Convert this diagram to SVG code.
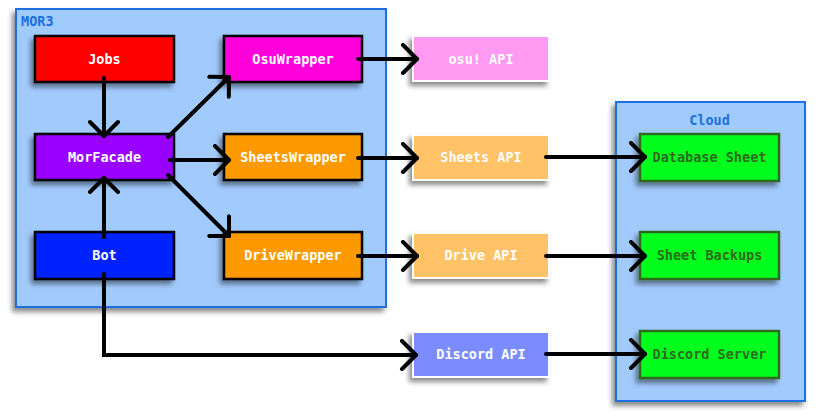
<svg xmlns="http://www.w3.org/2000/svg" width="824" height="418" viewBox="0 0 824 418">
<defs>
<filter id="sh" x="-20%" y="-20%" width="140%" height="150%">
<feDropShadow dx="-3" dy="4" stdDeviation="2.5" flood-color="#000" flood-opacity="0.45"/>
</filter>
<marker id="ah" markerUnits="userSpaceOnUse" viewBox="-22 -16 26 32" refX="0" refY="0" markerWidth="26" markerHeight="32" orient="auto">
<path d="M-14,-14 L0,0 L-14,14" fill="none" stroke="#000" stroke-width="4" stroke-linecap="round" stroke-linejoin="round"/>
</marker>
<style>
.grp{fill:#a2cbfd;stroke:#1a6fe0;stroke-width:2;filter:url(#sh)}
.gl{font-family:"DejaVu Sans Mono","Liberation Mono",monospace;font-weight:bold;font-size:13.5px;fill:#1a6fe0}
.n{stroke:#000;stroke-width:2.5;filter:url(#sh)}
.api{stroke:#fff;stroke-width:2;filter:url(#sh)}
.cl{fill:#00ff1a;stroke:#2d6b1c;stroke-width:2.5;filter:url(#sh)}
.t{font-family:"DejaVu Sans Mono","Liberation Mono",monospace;font-weight:bold;font-size:13.5px;fill:#fff;text-anchor:middle}
.ct{font-family:"DejaVu Sans Mono","Liberation Mono",monospace;font-weight:bold;font-size:13.5px;fill:#2d6b1c;text-anchor:middle}
.c{fill:none;stroke:#000;stroke-width:4;stroke-linecap:round;stroke-linejoin:miter;marker-end:url(#ah)}
</style>
</defs>
<g id="MOR3">
<rect class="grp" x="16" y="9" width="370" height="298"/>
<text class="gl" x="21" y="26">MOR3</text>
</g>
<g id="Cloud">
<rect class="grp" x="616" y="102" width="189" height="299"/>
<text class="gl" x="709.5" y="125" text-anchor="middle">Cloud</text>
</g>
<g id="Jobs"><rect class="n" x="35" y="36" width="139" height="46" fill="#ff0000"/><text class="t" x="104.5" y="63.5">Jobs</text></g>
<g id="OsuWrapper"><rect class="n" x="224" y="36" width="138" height="46" fill="#ff00dd"/><text class="t" x="293" y="63.5">OsuWrapper</text></g>
<g id="MorFacade"><rect class="n" x="35" y="134" width="139" height="46" fill="#9900ff"/><text class="t" x="104.5" y="161.5">MorFacade</text></g>
<g id="SheetsWrapper"><rect class="n" x="224" y="134" width="138" height="46" fill="#ff9900"/><text class="t" x="293" y="161.5">SheetsWrapper</text></g>
<g id="Bot"><rect class="n" x="35" y="232" width="139" height="47" fill="#0022ff"/><text class="t" x="104.5" y="260">Bot</text></g>
<g id="DriveWrapper"><rect class="n" x="224" y="232" width="138" height="47" fill="#ff9900"/><text class="t" x="293" y="260">DriveWrapper</text></g>
<g id="osuAPI"><rect class="api" x="413" y="36" width="136" height="45" fill="#ff99f2"/><text class="t" x="481" y="63.5">osu! API</text></g>
<g id="SheetsAPI"><rect class="api" x="413" y="135" width="136" height="45" fill="#ffc266"/><text class="t" x="481" y="161.5">Sheets API</text></g>
<g id="DriveAPI"><rect class="api" x="413" y="233" width="136" height="45" fill="#ffc266"/><text class="t" x="481" y="260">Drive API</text></g>
<g id="DiscordAPI"><rect class="api" x="413" y="332" width="136" height="45" fill="#7a8cff"/><text class="t" x="481" y="359">Discord API</text></g>
<g id="DatabaseSheet"><rect class="cl" x="640" y="134" width="139" height="47"/><text class="ct" x="709.5" y="162">Database Sheet</text></g>
<g id="SheetBackups"><rect class="cl" x="640" y="232" width="139" height="47"/><text class="ct" x="709.5" y="260">Sheet Backups</text></g>
<g id="DiscordServer"><rect class="cl" x="640" y="331" width="139" height="47"/><text class="ct" x="709.5" y="359">Discord Server</text></g>
<g id="connectors">
<path class="c" d="M104,78 L104,136"/>
<path class="c" d="M104,237 L104,178"/>
<path class="c" d="M104,274 L104,355 L416,355"/>
<path class="c" d="M168,137 L229,77"/>
<path class="c" d="M170,160 L229,160"/>
<path class="c" d="M168,175 L229,236"/>
<path class="c" d="M358,59 L417,59"/>
<path class="c" d="M358,158 L417,158"/>
<path class="c" d="M358,256 L417,256"/>
<path class="c" d="M546,157 L645,157"/>
<path class="c" d="M546,256 L645,256"/>
<path class="c" d="M546,354 L645,354"/>
</g>
</svg>
